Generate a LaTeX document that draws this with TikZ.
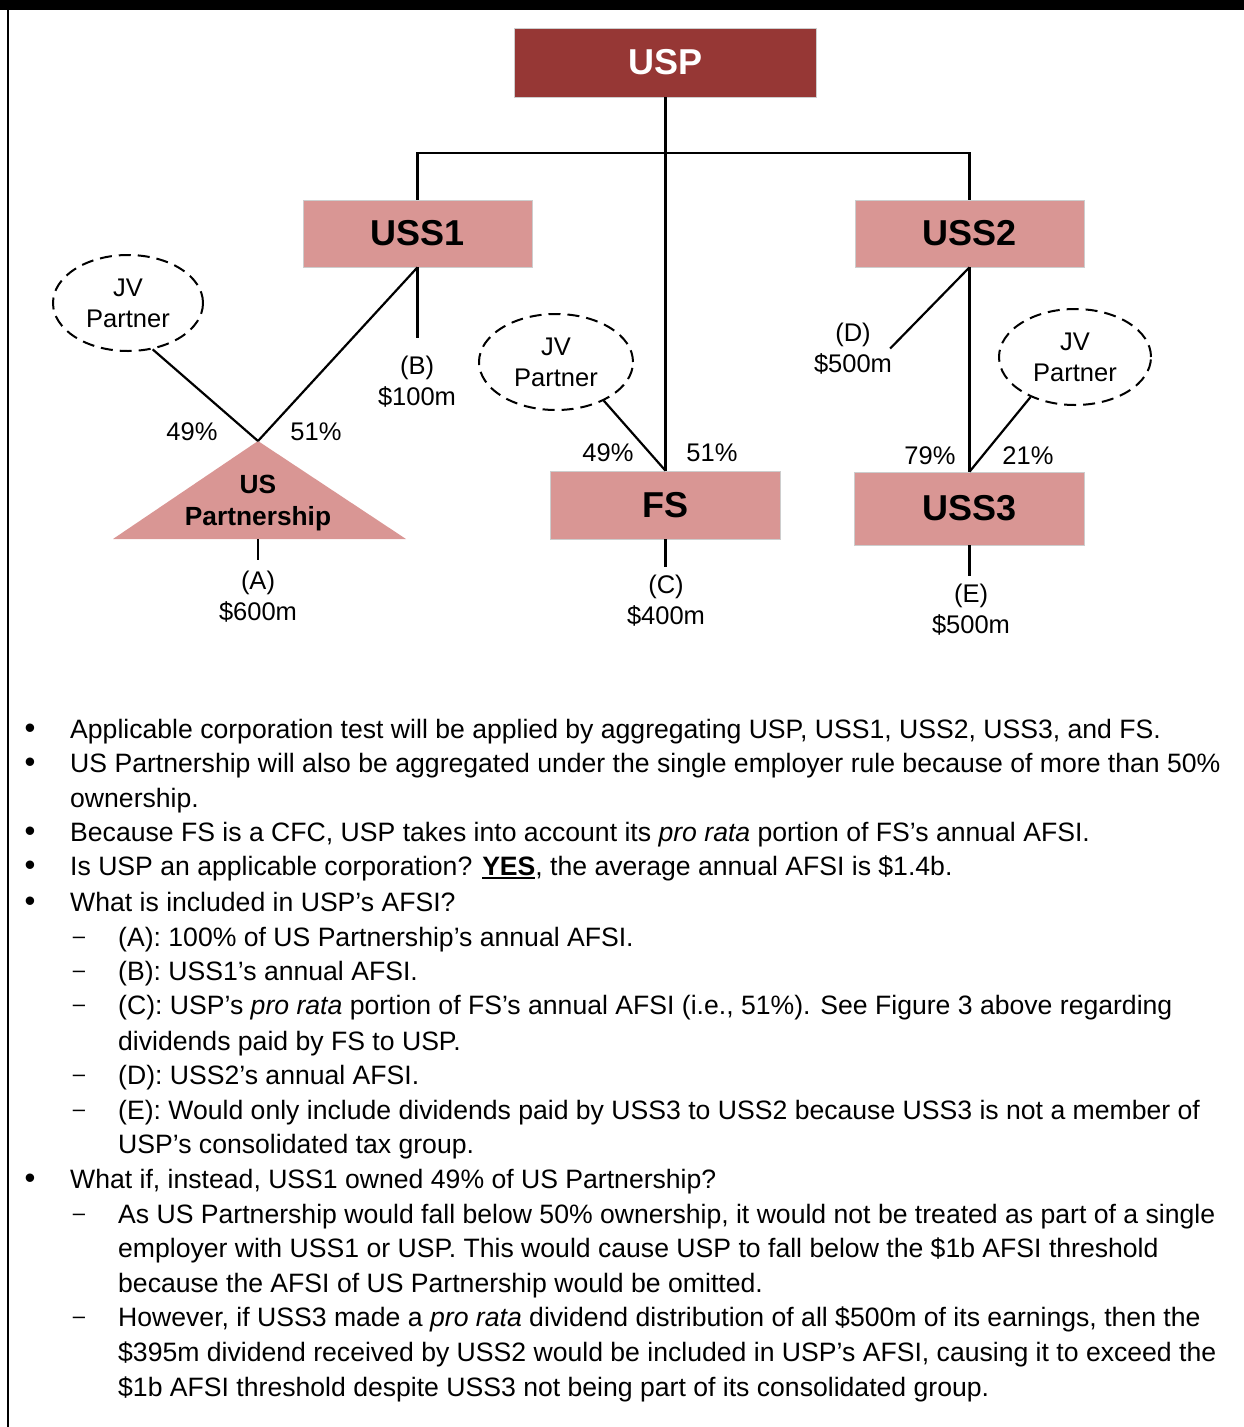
\documentclass[tikz,border=0pt]{standalone}
\usepackage{fontspec}
\setmainfont{Liberation Sans}
\usetikzlibrary{shapes.geometric}
\definecolor{uspred}{RGB}{150,55,53}
\definecolor{pinkbox}{RGB}{217,150,148}
\definecolor{boxedge}{RGB}{205,205,205}
\newcommand\ulbold[1]{\setbox0\hbox{\bfseries #1}\rlap{\rule[-4pt]{\wd0}{2.4pt}}\box0}
\begin{document}
\begin{tikzpicture}[x=1pt,y=-1pt,
  conn/.style={line width=2.2pt},
  pbox/.style={fill=pinkbox, draw=boxedge, line width=0.6pt, font=\fontsize{36}{40}\selectfont\bfseries, inner sep=0pt},
  jv/.style={ellipse, draw, dash pattern=on 12pt off 7pt, line width=2pt, font=\fontsize{25.5}{31}\selectfont, align=center, inner sep=0pt},
  lab/.style={font=\fontsize{25.5}{31}\selectfont, align=center, inner sep=0pt},
  body/.style={anchor=base west, font=\fontsize{26.6}{34}\selectfont, inner sep=0pt},
  bul/.style={anchor=base, font=\fontsize{31}{34}\selectfont, inner sep=0pt},
  dsh/.style={anchor=base, font=\fontsize{22}{34}\selectfont, inner sep=0pt}
]
\useasboundingbox (0,0) rectangle (1244,1427);
\fill[black] (0,0) rectangle (1244,10);
\draw[line width=2pt] (8,10) -- (8,1427);

% entities
\node[fill=uspred, draw=boxedge, line width=0.6pt, minimum width=302pt, minimum height=69pt, inner sep=0pt,
      text=white, font=\fontsize{36}{40}\selectfont\bfseries] (usp) at (665.5,62.5) {USP};
\node[pbox, minimum width=229pt, minimum height=67pt] (uss1) at (417.5,233.5) {USS1};
\node[pbox, minimum width=229pt, minimum height=67pt] (uss2) at (969.5,233.5) {USS2};
\node[pbox, minimum width=230pt, minimum height=68pt] (fs) at (665.5,505) {FS};
\node[pbox, minimum width=230pt, minimum height=73pt] (uss3) at (969.5,508.5) {USS3};

\coordinate (apex) at (258,441);
\coordinate (tribase) at (258,539);
\fill[pinkbox] (apex) -- (113,539) -- (406,539) -- cycle;
\node[font=\fontsize{26.3}{32}\selectfont\bfseries, align=center, inner sep=0pt] (uspart) at (258,503) {US\\Partnership};

\node[jv, minimum width=150pt, minimum height=96pt] (jv1) at (128,303) {JV\\Partner};
\node[jv, minimum width=154pt, minimum height=96pt] (jv2) at (556,362) {JV\\Partner};
\node[jv, minimum width=152pt, minimum height=96pt] (jv3) at (1075,357) {JV\\Partner};

% connectors
\draw[conn] (usp.south) -- (fs.north);
\draw[conn] (uss1.north) -- ++(0,-47) -| (uss2.north);
\draw[conn] (uss1.south) -- (apex);
\draw[conn] (jv1.-62) -- (apex);
\coordinate (bend) at (417.5,338);
\draw[conn] (uss1.south) -- (bend);
\coordinate (aend) at (258,560);
\draw[conn] (tribase) -- (aend);
\draw[conn] (jv2.-39) -- (fs.north);
\coordinate (cend) at (665.5,567);
\draw[conn] (fs.south) -- (cend);
\draw[conn] (uss2.south) -- (uss3.north);
\draw[conn] (jv3.-138) -- (uss3.north);
\coordinate (eend) at (969.5,576);
\draw[conn] (uss3.south) -- (eend);

% labels
\node[lab] (lb) at (417,381.5) {(B)\\\$100m};
\node[lab] (la) at (258,596.5) {(A)\\\$600m};
\node[lab] (lc) at (666,600.5) {(C)\\\$400m};
\node[lab] (le) at (971,609.5) {(E)\\\$500m};
\node[lab] (ld) at (853,348.5) {(D)\\\$500m};
\draw[conn] (uss2.south) -- ([xshift=-2pt]ld.east);
\node[lab] (p1) at (192,432) {49\%};
\node[lab] (p2) at (316,432) {51\%};
\node[lab] (p3) at (608,453) {49\%};
\node[lab] (p4) at (712,453) {51\%};
\node[lab] (p5) at (930,456) {79\%};
\node[lab] (p6) at (1028,456) {21\%};

% bullet text
\node[bul] (b1) at (30,738) {•};
\node[body] (t1) at (70,738) {Applicable corporation test will be applied by aggregating USP, USS1, USS2, USS3, and FS.};
\node[bul] (b2) at (30,772) {•};
\node[body] (t2) at (70,772) {US Partnership will also be aggregated under the single employer rule because of more than 50\%};
\node[body] (t3) at (70,807) {ownership.};
\node[bul] (b4) at (30,841) {•};
\node[body] (t4) at (70,841) {Because FS is a CFC, USP takes into account its \textit{pro rata} portion of FS’s annual AFSI.};
\node[bul] (b5) at (30,875) {•};
\node[body] (t5) at (70,875) {Is USP an applicable corporation? \ulbold{YES}, the average annual AFSI is \$1.4b.};
\node[bul] (b6) at (30,911) {•};
\node[body] (t6) at (70,911) {What is included in USP’s AFSI?};
\node[dsh] (d7) at (79,943) {–};
\node[body] (t7) at (118,946) {(A): 100\% of US Partnership’s annual AFSI.};
\node[dsh] (d8) at (79,977) {–};
\node[body] (t8) at (118,980) {(B): USS1’s annual AFSI.};
\node[dsh] (d9) at (79,1011) {–};
\node[body] (t9) at (118,1014) {(C): USP’s \textit{pro rata} portion of FS’s annual AFSI (i.e., 51\%). See Figure 3 above regarding};
\node[body] (t10) at (118,1050) {dividends paid by FS to USP.};
\node[dsh] (d11) at (79,1081) {–};
\node[body] (t11) at (118,1084) {(D): USS2’s annual AFSI.};
\node[dsh] (d12) at (79,1116) {–};
\node[body] (t12) at (118,1119) {(E): Would only include dividends paid by USS3 to USS2 because USS3 is not a member of};
\node[body] (t13) at (118,1153) {USP’s consolidated tax group.};
\node[bul] (b14) at (30,1188) {•};
\node[body] (t14) at (70,1188) {What if, instead, USS1 owned 49\% of US Partnership?};
\node[dsh] (d15) at (79,1220) {–};
\node[body] (t15) at (118,1223) {As US Partnership would fall below 50\% ownership, it would not be treated as part of a single};
\node[body] (t16) at (118,1257) {employer with USS1 or USP. This would cause USP to fall below the \$1b AFSI threshold};
\node[body] (t17) at (118,1292) {because the AFSI of US Partnership would be omitted.};
\node[dsh] (d18) at (79,1323) {–};
\node[body] (t18) at (118,1326) {However, if USS3 made a \textit{pro rata} dividend distribution of all \$500m of its earnings, then the};
\node[body] (t19) at (118,1361) {\$395m dividend received by USS2 would be included in USP’s AFSI, causing it to exceed the};
\node[body] (t20) at (118,1396) {\$1b AFSI threshold despite USS3 not being part of its consolidated group.};
\end{tikzpicture}
\end{document}
